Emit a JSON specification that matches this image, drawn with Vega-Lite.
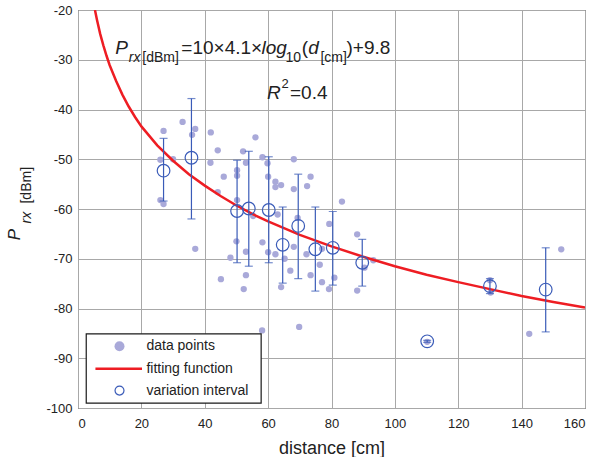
{
  "$schema": "https://vega.github.io/schema/vega-lite/v6.json",
  "width": 507,
  "height": 398,
  "autosize": "none",
  "padding": {"left": 78, "top": 10, "right": 14, "bottom": 49},
  "background": "white",
  "config": {
    "view": {"stroke": "#262626", "strokeWidth": 1},
    "font": "Liberation Sans",
    "axis": {
      "grid": true, "gridColor": "#a8a8a8", "gridOpacity": 1, "gridWidth": 1,
      "domain": false, "ticks": false,
      "labelFont": "Liberation Sans", "labelFontSize": 13, "labelColor": "#222222",
      "titleFont": "Liberation Sans", "titleFontWeight": "normal", "titleColor": "#222222"
    },
    "text": {"font": "Liberation Sans", "color": "#222222"}
  },
  "datasets": {
    "pts": [
      {"d": 26, "p": -50.1}, {"d": 27, "p": -44.3}, {"d": 30, "p": -50.0}, {"d": 26, "p": -58.2},
      {"d": 27, "p": -59.0}, {"d": 33, "p": -42.5}, {"d": 37, "p": -43.9}, {"d": 36, "p": -45.1},
      {"d": 41.9, "p": -44.6}, {"d": 44.1, "p": -48.2}, {"d": 41.8, "p": -50.7}, {"d": 46, "p": -53.5},
      {"d": 44.1, "p": -56.6}, {"d": 56, "p": -45.6}, {"d": 52.1, "p": -48.4}, {"d": 53, "p": -50.7},
      {"d": 50.2, "p": -52.2}, {"d": 50.2, "p": -53.3}, {"d": 50.2, "p": -58.2}, {"d": 58.2, "p": -49.6},
      {"d": 59.8, "p": -50.8}, {"d": 60, "p": -53.5}, {"d": 62.3, "p": -54.5}, {"d": 62.3, "p": -55.6},
      {"d": 64.1, "p": -55.2}, {"d": 68.1, "p": -50.0}, {"d": 68.1, "p": -56.0}, {"d": 63, "p": -61.1},
      {"d": 55.3, "p": -61.4}, {"d": 73.4, "p": -53.5}, {"d": 72.3, "p": -55.4}, {"d": 83.3, "p": -58.5},
      {"d": 69.3, "p": -61.8}, {"d": 79.3, "p": -63.0}, {"d": 88.1, "p": -65.1}, {"d": 37, "p": -68.0},
      {"d": 50, "p": -66.5}, {"d": 53, "p": -68.6}, {"d": 58.2, "p": -66.7}, {"d": 60, "p": -68.7},
      {"d": 62.3, "p": -69.1}, {"d": 68.1, "p": -67.6}, {"d": 65.2, "p": -70.0}, {"d": 67, "p": -72.4},
      {"d": 64.1, "p": -75.7}, {"d": 48.1, "p": -69.8}, {"d": 45.1, "p": -74.1}, {"d": 53, "p": -73.3},
      {"d": 52.3, "p": -76.1}, {"d": 58.1, "p": -84.4}, {"d": 69.8, "p": -83.7}, {"d": 72.1, "p": -69.1},
      {"d": 77, "p": -68.0}, {"d": 76.3, "p": -71.2}, {"d": 73.4, "p": -73.3}, {"d": 77, "p": -74.7},
      {"d": 79.2, "p": -76.1}, {"d": 80.9, "p": -73.8}, {"d": 93.2, "p": -70.3}, {"d": 90.4, "p": -71.8},
      {"d": 88.1, "p": -76.4}, {"d": 110.2, "p": -86.7}, {"d": 130, "p": -74.3}, {"d": 130.2, "p": -76.8},
      {"d": 152.5, "p": -68.1}, {"d": 142.4, "p": -85.1}
    ],
    "means": [
      {"d": 27, "p": -52.3, "lo": -58.4, "hi": -45.8},
      {"d": 35.8, "p": -49.7, "lo": -62.0, "hi": -37.8},
      {"d": 50.2, "p": -60.4, "lo": -70.8, "hi": -50.2},
      {"d": 53.9, "p": -59.9, "lo": -71.5, "hi": -48.4},
      {"d": 60.2, "p": -60.2, "lo": -70.8, "hi": -49.5},
      {"d": 64.6, "p": -67.2, "lo": -74.9, "hi": -59.6},
      {"d": 69.5, "p": -63.4, "lo": -74.0, "hi": -53.0},
      {"d": 74.9, "p": -68.1, "lo": -76.5, "hi": -59.6},
      {"d": 80.4, "p": -67.8, "lo": -75.3, "hi": -60.5},
      {"d": 89.7, "p": -70.8, "lo": -75.5, "hi": -66.1},
      {"d": 110.2, "p": -86.6, "lo": -86.8, "hi": -86.4},
      {"d": 130, "p": -75.5, "lo": -77.0, "hi": -74.0},
      {"d": 147.6, "p": -76.2, "lo": -84.7, "hi": -67.8}
    ],
    "curve": [
      {"d": 5.35, "p": -20}, {"d": 6, "p": -22}, {"d": 7, "p": -24.8}, {"d": 8, "p": -27.1},
      {"d": 9, "p": -29.2}, {"d": 10, "p": -31.1}, {"d": 12, "p": -34.2}, {"d": 14, "p": -37.0},
      {"d": 16, "p": -39.4}, {"d": 18, "p": -41.5}, {"d": 20, "p": -43.4}, {"d": 25, "p": -47.2},
      {"d": 30, "p": -50.3}, {"d": 35, "p": -53.0}, {"d": 40, "p": -55.3}, {"d": 45, "p": -57.4},
      {"d": 50, "p": -59.3}, {"d": 55, "p": -61.0}, {"d": 60, "p": -62.5}, {"d": 70, "p": -65.2},
      {"d": 80, "p": -67.5}, {"d": 90, "p": -69.6}, {"d": 100, "p": -71.5}, {"d": 110, "p": -73.2},
      {"d": 120, "p": -74.7}, {"d": 130, "p": -76.1}, {"d": 140, "p": -77.5}, {"d": 150, "p": -78.7},
      {"d": 160, "p": -79.8}
    ]
  },
  "layer": [
    {
      "data": {"name": "pts"},
      "mark": {"type": "point", "shape": "circle", "filled": true, "color": "#a9a9d9", "opacity": 1, "size": 40},
      "encoding": {
        "x": {"field": "d", "type": "quantitative", "scale": {"domain": [0, 160], "nice": false, "zero": false},
              "axis": {"values": [0, 20, 40, 60, 80, 100, 120, 140, 160], "labelExpr": "toString(datum.value)", "title": "distance [cm]", "titleFontSize": 18, "labelPadding": 9, "titlePadding": 9}},
        "y": {"field": "p", "type": "quantitative", "scale": {"domain": [-100, -20], "nice": false, "zero": false},
              "axis": {"values": [-100, -90, -80, -70, -60, -50, -40, -30, -20], "labelExpr": "toString(datum.value)", "title": null, "labelPadding": 6}}
      }
    },
    {
      "data": {"name": "curve"},
      "mark": {"type": "line", "color": "#ee1d23", "strokeWidth": 2.5, "clip": true},
      "encoding": {
        "x": {"field": "d", "type": "quantitative"},
        "y": {"field": "p", "type": "quantitative"}
      }
    },
    {
      "data": {"name": "means"},
      "mark": {"type": "rule", "color": "#3a5bb8", "strokeWidth": 1.2},
      "encoding": {
        "x": {"field": "d", "type": "quantitative"},
        "y": {"field": "lo", "type": "quantitative"},
        "y2": {"field": "hi"}
      }
    },
    {
      "data": {"name": "means"},
      "mark": {"type": "tick", "orient": "horizontal", "color": "#3a5bb8", "size": 8, "thickness": 1.2},
      "encoding": {
        "x": {"field": "d", "type": "quantitative"},
        "y": {"field": "lo", "type": "quantitative"}
      }
    },
    {
      "data": {"name": "means"},
      "mark": {"type": "tick", "orient": "horizontal", "color": "#3a5bb8", "size": 8, "thickness": 1.2},
      "encoding": {
        "x": {"field": "d", "type": "quantitative"},
        "y": {"field": "hi", "type": "quantitative"}
      }
    },
    {
      "data": {"name": "means"},
      "mark": {"type": "point", "shape": "circle", "filled": false, "color": "#3a5bb8", "strokeWidth": 1.2, "size": 160, "opacity": 1},
      "encoding": {
        "x": {"field": "d", "type": "quantitative"},
        "y": {"field": "p", "type": "quantitative"}
      }
    },
    {
      "data": {"values": [{"x1": 2.6, "x2": 57.8, "y1": -85.1, "y2": -99.0}]},
      "mark": {"type": "rect", "fill": "white", "stroke": "#1a1a1a", "strokeWidth": 1.2},
      "encoding": {
        "x": {"field": "x1", "type": "quantitative"},
        "x2": {"field": "x2"},
        "y": {"field": "y1", "type": "quantitative"},
        "y2": {"field": "y2"}
      }
    },
    {
      "data": {"values": [{"x": 13.1, "y": -87.6}]},
      "mark": {"type": "point", "shape": "circle", "filled": true, "color": "#a9a9d9", "opacity": 1, "size": 100},
      "encoding": {
        "x": {"field": "x", "type": "quantitative"},
        "y": {"field": "y", "type": "quantitative"}
      }
    },
    {
      "data": {"values": [{"x1": 5.5, "x2": 20.2, "y": -92.1}]},
      "mark": {"type": "rule", "color": "#ee1d23", "strokeWidth": 2.5},
      "encoding": {
        "x": {"field": "x1", "type": "quantitative"},
        "x2": {"field": "x2"},
        "y": {"field": "y", "type": "quantitative"}
      }
    },
    {
      "data": {"values": [{"x": 13.1, "y": -96.5}]},
      "mark": {"type": "point", "shape": "circle", "filled": false, "color": "#3a5bb8", "strokeWidth": 1.2, "size": 80, "opacity": 1},
      "encoding": {
        "x": {"field": "x", "type": "quantitative"},
        "y": {"field": "y", "type": "quantitative"}
      }
    },
    {
      "data": {"values": [
        {"x": 21.6, "y": -87.6, "t": "data points"},
        {"x": 21.6, "y": -92.1, "t": "fitting function"},
        {"x": 21.6, "y": -96.5, "t": "variation interval"}
      ]},
      "mark": {"type": "text", "align": "left", "baseline": "middle", "fontSize": 14},
      "encoding": {
        "x": {"field": "x", "type": "quantitative"},
        "y": {"field": "y", "type": "quantitative"},
        "text": {"field": "t"}
      }
    },
    {
      "data": {"values": [
        {"x": 11.78, "y": -28.91, "t": "P"},
        {"x": 57.88, "y": -28.91, "t": "log"},
        {"x": 72.7, "y": -28.91, "t": "d"},
        {"x": 59.68, "y": -37.91, "t": "R"}
      ]},
      "mark": {"type": "text", "align": "left", "baseline": "alphabetic", "fontSize": 19, "fontStyle": "italic"},
      "encoding": {
        "x": {"field": "x", "type": "quantitative"},
        "y": {"field": "y", "type": "quantitative"},
        "text": {"field": "t"}
      }
    },
    {
      "data": {"values": [
        {"x": 32.62, "y": -28.91, "t": "=10×4.1×"},
        {"x": 70.6, "y": -28.91, "t": "("},
        {"x": 84.72, "y": -28.91, "t": ")+9.8"},
        {"x": 66.9, "y": -37.91, "t": "=0.4"}
      ]},
      "mark": {"type": "text", "align": "left", "baseline": "alphabetic", "fontSize": 19},
      "encoding": {
        "x": {"field": "x", "type": "quantitative"},
        "y": {"field": "y", "type": "quantitative"},
        "text": {"field": "t"}
      }
    },
    {
      "data": {"values": [{"x": 16.04, "y": -30.4, "t": "rx"}]},
      "mark": {"type": "text", "align": "left", "baseline": "alphabetic", "fontSize": 14, "fontStyle": "italic"},
      "encoding": {
        "x": {"field": "x", "type": "quantitative"},
        "y": {"field": "y", "type": "quantitative"},
        "text": {"field": "t"}
      }
    },
    {
      "data": {"values": [
        {"x": 20.3, "y": -30.4, "t": "[dBm]"},
        {"x": 65.46, "y": -30.4, "t": "10"},
        {"x": 76.52, "y": -30.4, "t": "[cm]"}
      ]},
      "mark": {"type": "text", "align": "left", "baseline": "alphabetic", "fontSize": 14},
      "encoding": {
        "x": {"field": "x", "type": "quantitative"},
        "y": {"field": "y", "type": "quantitative"},
        "text": {"field": "t"}
      }
    },
    {
      "data": {"values": [{"x": 64.2, "y": -35.7, "t": "2"}]},
      "mark": {"type": "text", "align": "left", "baseline": "alphabetic", "fontSize": 13},
      "encoding": {
        "x": {"field": "x", "type": "quantitative"},
        "y": {"field": "y", "type": "quantitative"},
        "text": {"field": "t"}
      }
    },
    {
      "data": {"values": [{"x": -18.2, "y": -66.3, "t": "P"}]},
      "mark": {"type": "text", "align": "left", "baseline": "alphabetic", "angle": 270, "fontSize": 17, "fontStyle": "italic"},
      "encoding": {
        "x": {"field": "x", "type": "quantitative"},
        "y": {"field": "y", "type": "quantitative"},
        "text": {"field": "t"}
      }
    },
    {
      "data": {"values": [{"x": -14.75, "y": -62.9, "t": "rx"}]},
      "mark": {"type": "text", "align": "left", "baseline": "alphabetic", "angle": 270, "fontSize": 14, "fontStyle": "italic"},
      "encoding": {
        "x": {"field": "x", "type": "quantitative"},
        "y": {"field": "y", "type": "quantitative"},
        "text": {"field": "t"}
      }
    },
    {
      "data": {"values": [{"x": -14.75, "y": -58.9, "t": "[dBm]"}]},
      "mark": {"type": "text", "align": "left", "baseline": "alphabetic", "angle": 270, "fontSize": 14},
      "encoding": {
        "x": {"field": "x", "type": "quantitative"},
        "y": {"field": "y", "type": "quantitative"},
        "text": {"field": "t"}
      }
    }
  ]
}
